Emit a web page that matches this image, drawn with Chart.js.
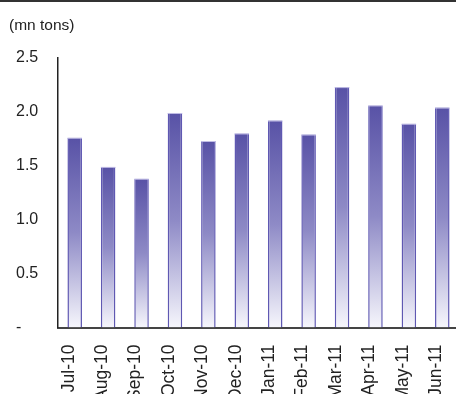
<!DOCTYPE html>
<html>
<head>
<meta charset="utf-8">
<script src="https://cdn.jsdelivr.net/npm/chart.js@4"></script>
<style>
  html, body { margin: 0; padding: 0; background: #fff; overflow: hidden; }
  #wrap { position: relative; width: 459px; height: 394px; }
</style>
</head>
<body>
<div id="wrap"><canvas id="chart" width="459" height="394"></canvas></div>
<script>
// Monthly volumes, mn tons
const months = ['Jul-10', 'Aug-10', 'Sep-10', 'Oct-10', 'Nov-10', 'Dec-10',
                'Jan-11', 'Feb-11', 'Mar-11', 'Apr-11', 'May-11', 'Jun-11'];
const volumes = [1.76, 1.49, 1.38, 1.99, 1.73, 1.80, 1.92, 1.79, 2.23, 2.06, 1.89, 2.04];
const yTickLabels = ['-', '0.5', '1.0', '1.5', '2.0', '2.5'];
const unitLabel = '(mn tons)';

const FONT = '"Liberation Sans", Arial, sans-serif';
const INK = '#222';

// Each bar fades from deep violet at its top to near white at the baseline
function barFill(ctx) {
  const chart = ctx.chart;
  const y = chart.scales && chart.scales.y;
  if (!chart.chartArea || !y || ctx.type !== 'data') return '#5a54a6';
  const top = y.getPixelForValue(ctx.raw);
  const bottom = y.getPixelForValue(0);
  const g = chart.ctx.createLinearGradient(0, top, 0, bottom);
  g.addColorStop(0, '#5852a6');
  g.addColorStop(0.5, '#8e8ac6');
  g.addColorStop(1, '#f6f6fc');
  return g;
}

// Top rule, unit caption and the light edge along each bar top
const decorations = {
  id: 'decorations',
  beforeDraw(chart) {
    const c = chart.ctx;
    c.save();
    c.fillStyle = '#333';
    c.fillRect(0, 0, chart.width, 2);
    c.font = '15.5px ' + FONT;
    c.fillStyle = INK;
    c.textBaseline = 'alphabetic';
    c.textAlign = 'left';
    c.fillText(unitLabel, 9, 29.5);
    c.restore();
  },
  afterDatasetsDraw(chart) {
    const c = chart.ctx;
    const meta = chart.getDatasetMeta(0);
    c.save();
    c.strokeStyle = '#c2bee6';
    c.lineWidth = 1;
    meta.data.forEach(bar => {
      const x0 = bar.x - bar.width / 2;
      c.beginPath();
      c.moveTo(x0, bar.y + 0.5);
      c.lineTo(x0 + bar.width, bar.y + 0.5);
      c.stroke();
    });
    c.restore();
  }
};

new Chart(document.getElementById('chart'), {
  type: 'bar',
  data: {
    labels: months,
    datasets: [{
      data: volumes,
      backgroundColor: barFill,
      borderColor: '#5f58b2',
      borderWidth: { left: 1.5, right: 1.5, top: 0, bottom: 0 },
      borderSkipped: false,
      barPercentage: 0.435,
      categoryPercentage: 1
    }]
  },
  options: {
    responsive: false,
    devicePixelRatio: 1,
    animation: false,
    layout: { padding: { left: 16, top: 58, right: 0, bottom: 0 } },
    plugins: {
      legend: { display: false },
      tooltip: { enabled: false },
      title: { display: false }
    },
    scales: {
      x: {
        offset: true,
        grid: { display: false, drawTicks: false },
        border: { display: true, color: '#444', width: 2 },
        ticks: {
          autoSkip: false,
          minRotation: 90,
          maxRotation: 90,
          padding: 17,
          labelOffset: -6,
          color: INK,
          font: { family: FONT, size: 17.5 }
        },
        afterFit(scale) {
          scale.height = 66.5;
          scale.paddingLeft = 0;
          scale.paddingRight = 0;
        }
      },
      y: {
        min: 0,
        max: 2.5,
        grid: { display: false, drawTicks: false },
        border: { display: true, color: INK, width: 1.5 },
        ticks: {
          stepSize: 0.5,
          crossAlign: 'far',
          padding: 0,
          color: INK,
          font: { family: FONT, size: 16 },
          callback: (v) => yTickLabels[Math.round(v / 0.5)]
        },
        afterFit(scale) {
          scale.width = 42;
        }
      }
    }
  },
  plugins: [decorations]
});
</script>
</body>
</html>
